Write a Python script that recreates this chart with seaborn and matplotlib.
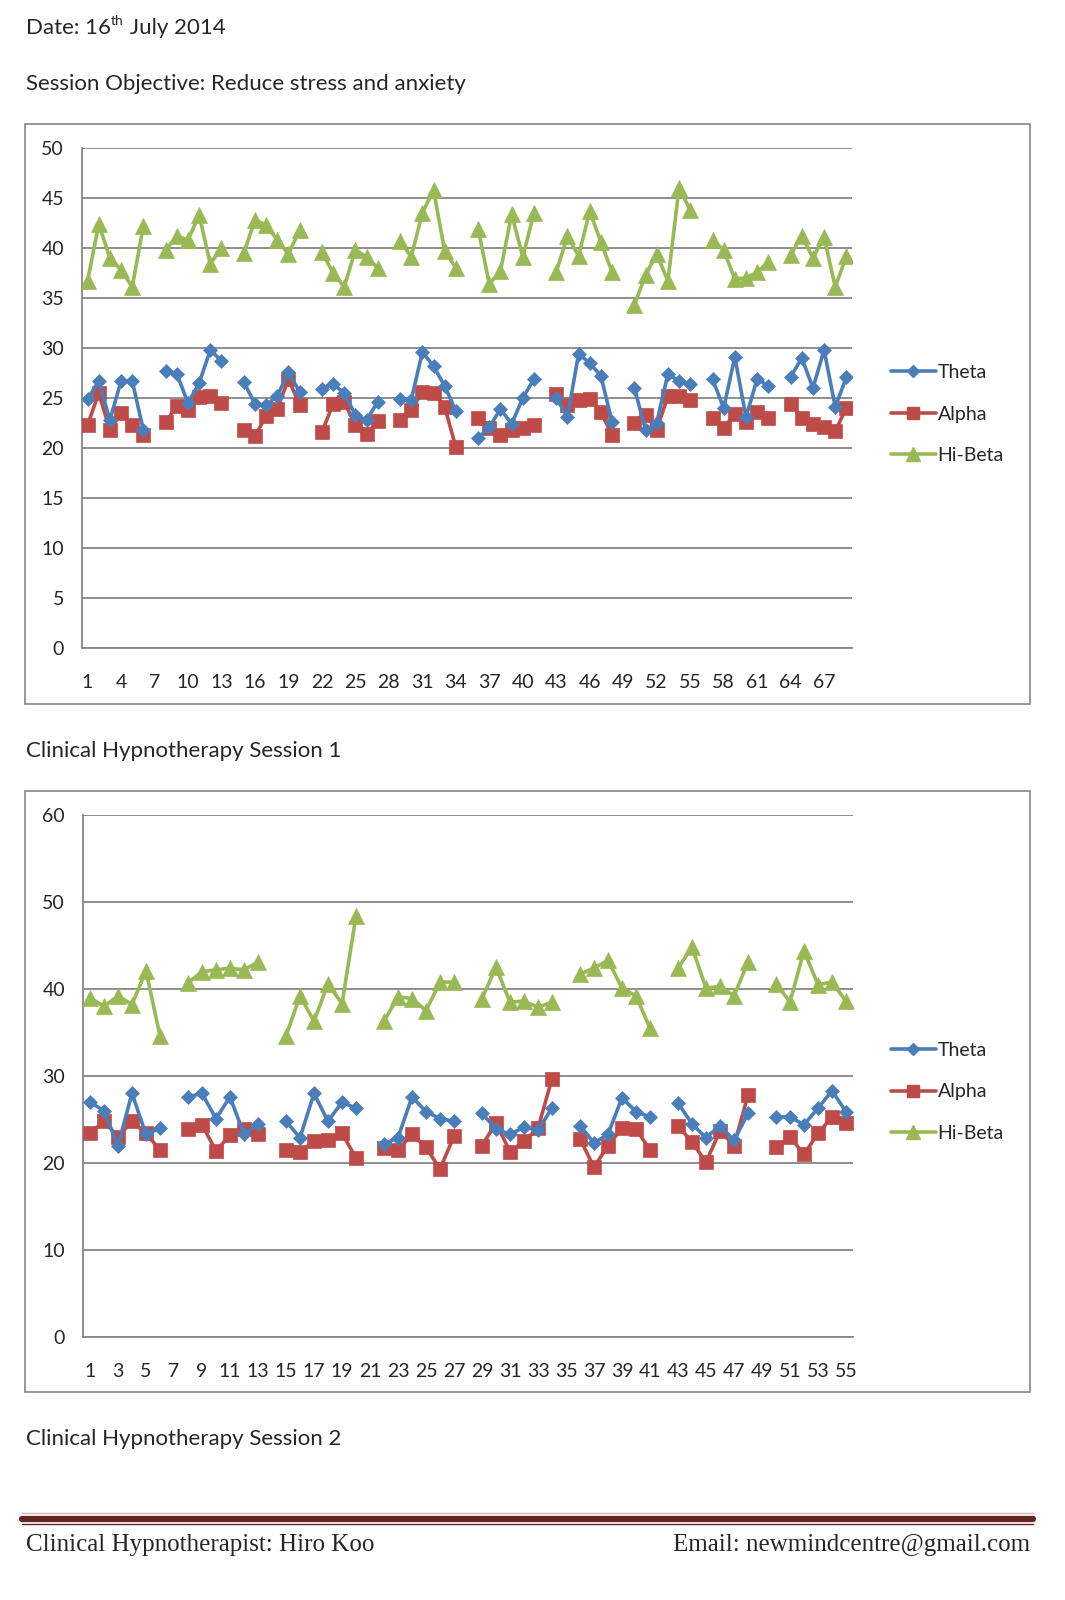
import numpy as np
import pandas as pd
import matplotlib
matplotlib.use("Agg")
import matplotlib.pyplot as plt
import seaborn as sns
from matplotlib.lines import Line2D
from matplotlib.patches import Rectangle

nan = np.nan

# ---------------- data ----------------
series_names = ["Theta", "Alpha", "Hi-Beta"]

s1_theta = [24.9, 26.7, 22.8, 26.7, 26.7, 21.8, nan,
            27.7, 27.4, 24.5, 26.5, 29.8, 28.7, nan,
            26.6, 24.4, 24.3, 25.2, 27.6, 25.6, nan,
            25.9, 26.4, 25.5, 23.3, 22.8, 24.6, nan,
            24.9, 24.8, 29.6, 28.2, 26.2, 23.7, nan,
            21.0, 22.1, 23.9, 22.4, 25.0, 26.9, nan,
            25.0, 23.1, 29.4, 28.5, 27.2, 22.6, nan,
            26.0, 21.8, 22.5, 27.4, 26.7, 26.4, nan,
            26.9, 24.0, 29.1, 23.1, 26.9, 26.2, nan,
            27.1, 29.0, 26.0, 29.8, 24.1, 27.1]
s1_alpha = [22.3, 25.5, 21.8, 23.5, 22.3, 21.3, nan,
            22.6, 24.2, 23.8, 25.1, 25.2, 24.5, nan,
            21.8, 21.2, 23.2, 23.9, 26.9, 24.3, nan,
            21.6, 24.4, 24.6, 22.3, 21.4, 22.7, nan,
            22.8, 23.8, 25.6, 25.5, 24.1, 20.1, nan,
            23.0, 22.0, 21.3, 21.8, 22.0, 22.3, nan,
            25.4, 24.3, 24.8, 24.9, 23.6, 21.3, nan,
            22.5, 23.3, 21.8, 25.2, 25.2, 24.8, nan,
            23.0, 22.0, 23.4, 22.6, 23.6, 23.0, nan,
            24.4, 23.0, 22.4, 22.1, 21.7, 24.0]
s1_hibeta = [36.7, 42.4, 39.0, 37.8, 36.1, 42.2, nan,
             39.8, 41.2, 40.8, 43.3, 38.4, 40.0, nan,
             39.5, 42.8, 42.3, 40.8, 39.4, 41.8, nan,
             39.6, 37.5, 36.1, 39.8, 39.1, 38.0, nan,
             40.7, 39.1, 43.5, 45.8, 39.7, 38.0, nan,
             41.9, 36.4, 37.7, 43.4, 39.1, 43.5, nan,
             37.6, 41.2, 39.2, 43.7, 40.6, 37.6, nan,
             34.3, 37.3, 39.4, 36.7, 46.0, 43.8, nan,
             40.8, 39.8, 36.9, 37.0, 37.6, 38.6, nan,
             39.3, 41.2, 39.0, 41.1, 36.1, 39.2]

s2_theta = [27.0, 26.0, 22.0, 28.0, 23.3, 24.0, nan,
            27.6, 28.0, 25.1, 27.6, 23.3, 24.5, nan,
            24.8, 22.9, 28.0, 24.8, 27.0, 26.3, nan,
            22.2, 22.9, 27.6, 25.9, 25.1, 24.8, nan,
            25.7, 23.9, 23.3, 24.1, 23.8, 26.3, nan,
            24.3, 22.3, 23.3, 27.5, 25.9, 25.3, nan,
            26.9, 24.5, 22.9, 24.3, 22.6, 25.7, nan,
            25.3, 25.3, 24.4, 26.3, 28.3, 25.9]
s2_alpha = [23.4, 24.8, 23.0, 24.8, 23.4, 21.5, nan,
            23.9, 24.4, 21.4, 23.2, 23.9, 23.3, nan,
            21.5, 21.3, 22.5, 22.6, 23.4, 20.6, nan,
            21.7, 21.5, 23.3, 21.8, 19.3, 23.1, nan,
            22.0, 24.6, 21.3, 22.5, 24.0, 29.7, nan,
            22.8, 19.5, 22.0, 24.0, 23.9, 21.5, nan,
            24.3, 22.4, 20.1, 23.7, 22.0, 27.8, nan,
            21.8, 23.0, 21.0, 23.4, 25.3, 24.6]
s2_hibeta = [39.0, 38.0, 39.2, 38.2, 42.1, 34.6, nan,
             40.7, 42.0, 42.2, 42.4, 42.2, 43.1, nan,
             34.6, 39.2, 36.3, 40.6, 38.3, 48.4, nan,
             36.3, 39.1, 38.9, 37.5, 40.8, 40.8, nan,
             38.9, 42.5, 38.5, 38.6, 37.9, 38.5, nan,
             41.7, 42.4, 43.3, 40.1, 39.2, 35.5, nan,
             42.4, 44.8, 40.1, 40.3, 39.2, 43.1, nan,
             40.6, 38.5, 44.4, 40.5, 40.8, 38.6]

header_date = ("Date: 16", "th", " July 2014")
header_objective = "Session Objective: Reduce stress and anxiety"
caption1 = "Clinical Hypnotherapy Session 1"
caption2 = "Clinical Hypnotherapy Session 2"
footer_left = "Clinical Hypnotherapist: Hiro Koo"
footer_right = "Email: newmindcentre@gmail.com"

# ---------------- style ----------------
sns.set_style("white")
plt.rcParams["font.family"] = ["Lato", "DejaVu Sans"]

colors = {"Theta": "#4A7EBB", "Alpha": "#BE4B48", "Hi-Beta": "#98B954"}
markers = {"Theta": "D", "Alpha": "s", "Hi-Beta": "^"}
msizes = {"Theta": 7.5, "Alpha": 10.5, "Hi-Beta": 12}
GRID = "#868686"
BODY_FS = 16
TICK_FS = 14
LW = 2.6

W, H = 1065, 1600
fig = plt.figure(figsize=(W / 100, H / 100), dpi=100)


def fx(px):
    return px / W


def fy(py):
    return 1 - py / H


def draw_chart(rect, data, ymax, ystep, label_step):
    x0, y0, x1, y1 = rect
    ax = fig.add_axes([fx(x0), fy(y1), fx(x1) - fx(x0), fy(y0) - fy(y1)])
    n = len(data["Theta"])
    order = ["Hi-Beta", "Alpha", "Theta"]
    for name in order:
        vals = pd.Series(data[name], dtype=float)
        seg = vals.isna().cumsum()
        df = pd.DataFrame({"idx": np.arange(1, n + 1), "val": vals, "seg": seg}).dropna()
        sns.lineplot(data=df, x="idx", y="val", units="seg", estimator=None,
                     color=colors[name], marker=markers[name],
                     markersize=msizes[name], markeredgecolor=colors[name],
                     markeredgewidth=0.5, linewidth=LW, ax=ax, legend=False,
                     zorder=3 if name != "Theta" else 4)
    ax.set_xlim(0.5, n + 0.5)
    ax.set_ylim(0, ymax)
    ax.set_yticks(np.arange(0, ymax + 0.1, ystep))
    ax.yaxis.grid(True, color=GRID, linewidth=1.3)
    ax.set_axisbelow(True)
    major = np.arange(1, n + 1, label_step)
    ax.set_xticks(major)
    ax.set_xticklabels([str(v) for v in major])
    ax.set_xticks(np.arange(0.5, n + 1), minor=True)
    ax.tick_params(axis="x", which="major", length=0, pad=19, labelsize=TICK_FS)
    ax.tick_params(axis="x", which="minor", length=5, width=1, color=GRID, direction="out")
    ax.tick_params(axis="y", which="major", length=5, width=1, color=GRID, direction="out",
                   pad=8, labelsize=TICK_FS)
    ax.set_xlabel("")
    ax.set_ylabel("")
    for s in ["top", "right"]:
        ax.spines[s].set_visible(False)
    for s in ["left", "bottom"]:
        ax.spines[s].set_color(GRID)
        ax.spines[s].set_linewidth(1.3)
    return ax


def add_box(x0, y0, x1, y1):
    fig.patches.append(Rectangle((fx(x0), fy(y1)), fx(x1) - fx(x0), fy(y0) - fy(y1),
                                 transform=fig.transFigure, fill=False,
                                 edgecolor=GRID, linewidth=1.2))


def add_legend(center_y):
    handles = [Line2D([0], [0], color=colors[nm], marker=markers[nm],
                      markersize=msizes[nm] * 0.8, linewidth=LW,
                      markeredgecolor=colors[nm]) for nm in series_names]
    fig.legend(handles, series_names, loc="center left",
               bbox_to_anchor=(fx(891), fy(center_y)), frameon=False,
               fontsize=TICK_FS, handlelength=2.3, handletextpad=0.1,
               labelspacing=1.25, borderpad=0, borderaxespad=0)


top_data = {"Theta": s1_theta, "Alpha": s1_alpha, "Hi-Beta": s1_hibeta}
bot_data = {"Theta": s2_theta, "Alpha": s2_alpha, "Hi-Beta": s2_hibeta}

add_box(25, 124, 1030, 704)
add_box(25, 791, 1030, 1392)
draw_chart((82, 148, 852, 648), top_data, 50, 5, 3)
draw_chart((83, 815, 853, 1337), bot_data, 60, 10, 2)
add_legend(414)
add_legend(1092)

# header text
renderer = fig.canvas.get_renderer()
t1 = fig.text(fx(26), fy(34), header_date[0], fontsize=BODY_FS, va="baseline", ha="left")
bb = t1.get_window_extent(renderer)
t2 = fig.text(bb.x1 / W, fy(25), header_date[1], fontsize=10, va="baseline", ha="left")
bb2 = t2.get_window_extent(renderer)
fig.text(bb2.x1 / W, fy(34), header_date[2], fontsize=BODY_FS, va="baseline", ha="left")
fig.text(fx(26), fy(90), header_objective, fontsize=BODY_FS, va="baseline", ha="left")
fig.text(fx(26), fy(757), caption1, fontsize=BODY_FS, va="baseline", ha="left")
fig.text(fx(26), fy(1445), caption2, fontsize=BODY_FS, va="baseline", ha="left")

# footer
fig.add_artist(Line2D([fx(22), fx(1033)], [fy(1513), fy(1513)], transform=fig.transFigure,
                      color="#D9B3B3", linewidth=1.0))
fig.add_artist(Line2D([fx(22), fx(1033)], [fy(1518.5), fy(1518.5)], transform=fig.transFigure,
                      color="#632423", linewidth=4.5))
fig.add_artist(Line2D([fx(22), fx(1033)], [fy(1524), fy(1524)], transform=fig.transFigure,
                      color="#632423", linewidth=1.0))
fig.text(fx(26), fy(1551), footer_left, fontsize=18, va="baseline", ha="left",
         family=["Liberation Serif", "DejaVu Serif"])
fig.text(fx(1030), fy(1551), footer_right, fontsize=18, va="baseline", ha="right",
         family=["Liberation Serif", "DejaVu Serif"])

fig.savefig("out.png", dpi=100)
